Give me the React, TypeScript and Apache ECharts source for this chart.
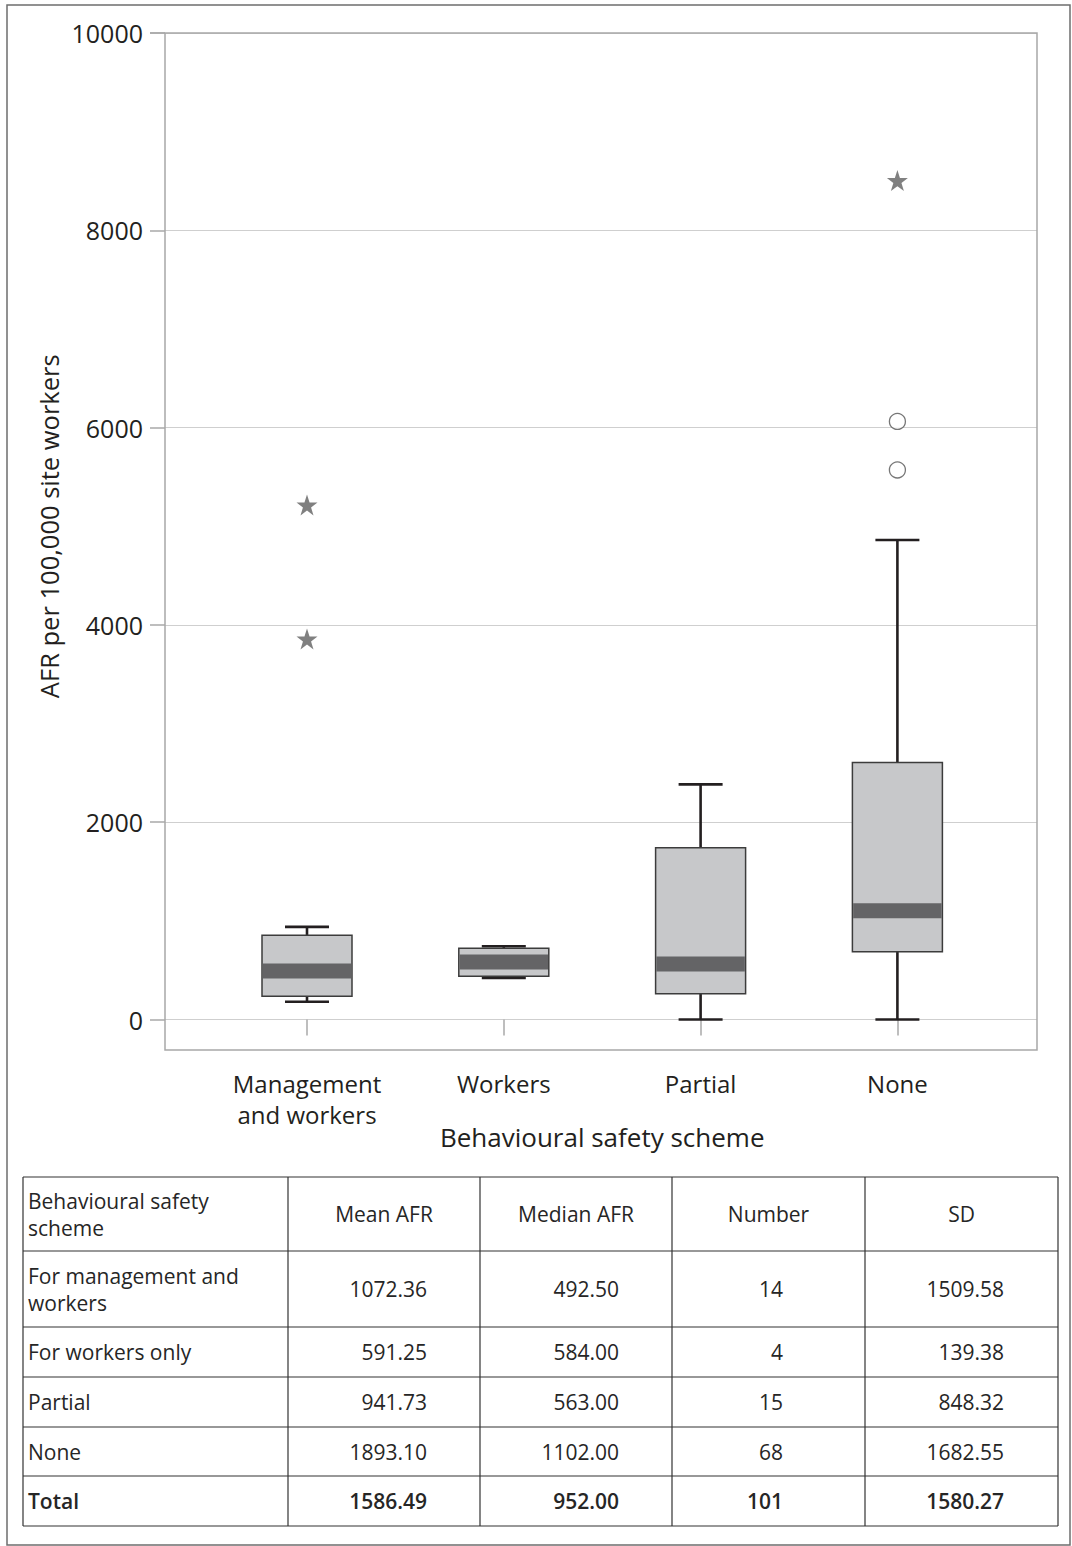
import React, { useEffect, useRef } from "react";
import * as echarts from "echarts";

// ---------- data ----------
const categories = ["Management\nand workers", "Workers", "Partial", "None"];
const whiskerLow = [180, 422, 0, 0];
const quartile1 = [236, 439, 260, 686];
const medianVal = [492.5, 584, 563, 1102];
const quartile3 = [855, 723, 1740, 2606];
const whiskerHigh = [939, 743, 2383, 4861];

// extreme outliers (stars) and outliers (circles)
const starCategory = [0, 0, 3];
const starValue = [5216, 3857, 8504];
const circleCategory = [3, 3];
const circleValue = [6063, 5571];

const yMin = 0;
const yMax = 10000;
const yInterval = 2000;

// ---------- table ----------
const tableHeader = ["Behavioural safety\nscheme", "Mean AFR", "Median AFR", "Number", "SD"];
const rowLabels = ["For management and\nworkers", "For workers only", "Partial", "None", "Total"];
const meanAFR = ["1072.36", "591.25", "941.73", "1893.10", "1586.49"];
const medianAFR = ["492.50", "584.00", "563.00", "1102.00", "952.00"];
const numberCol = ["14", "4", "15", "68", "101"];
const sdCol = ["1509.58", "139.38", "848.32", "1682.55", "1580.27"];

const FONT = '"Open Sans", "Noto Sans", sans-serif';
const TEXT = "#231f20";

export default function App() {
  const ref = useRef<HTMLDivElement>(null);

  useEffect(() => {
    if (!ref.current) return;
    const chart = echarts.init(ref.current, null, { renderer: "svg" });

    // layout constants
    const frameL = 165, frameT = 33, frameR = 1037, frameB = 1050;
    const zeroY = 1019.5;
    const catSpacing = 196.8;
    const firstCat = 307;
    const dataLeft = firstCat - catSpacing / 2;
    const dataWidth = catSpacing * categories.length;

    const boxData = categories.map((_, i) => [
      i, whiskerLow[i], quartile1[i], medianVal[i], quartile3[i], whiskerHigh[i],
    ]);
    const starData = starCategory.map((c, i) => [c, starValue[i]]);
    const circleData = circleCategory.map((c, i) => [c, circleValue[i]]);

    // table graphics
    const colX = [23, 288, 480, 672, 865, 1058];
    const rowY = [1177, 1251, 1327, 1377, 1427, 1476, 1526];
    const numRight = [0, 427, 619, 783, 1004];
    const tableG: any[] = [];
    const lineStyle = { stroke: "#333", lineWidth: 1.2 };
    rowY.forEach((y) =>
      tableG.push({ type: "line", shape: { x1: colX[0], y1: y, x2: colX[5], y2: y }, style: lineStyle })
    );
    colX.forEach((x) =>
      tableG.push({ type: "line", shape: { x1: x, y1: rowY[0], x2: x, y2: rowY[6] }, style: lineStyle })
    );
    const txt = (text: string, x: number, y: number, align: string, bold = false) => ({
      type: "text",
      x,
      y,
      style: {
        text,
        fill: "#262626",
        fontSize: 21,
        fontFamily: FONT,
        fontWeight: bold ? 600 : "normal",
        lineHeight: 27,
        textAlign: align,
        textVerticalAlign: "middle",
        align,
        verticalAlign: "middle",
      },
    });
    // header
    const hy = (rowY[0] + rowY[1]) / 2;
    tableG.push(txt(tableHeader[0], colX[0] + 5, hy, "left"));
    for (let c = 1; c < 5; c++) tableG.push(txt(tableHeader[c], (colX[c] + colX[c + 1]) / 2, hy, "center"));
    const cols = [meanAFR, medianAFR, numberCol, sdCol];
    rowLabels.forEach((lab, r) => {
      const cy = (rowY[r + 1] + rowY[r + 2]) / 2;
      const bold = r === rowLabels.length - 1;
      tableG.push(txt(lab, colX[0] + 5, cy, "left", bold));
      cols.forEach((col, c) => tableG.push(txt(col[r], numRight[c + 1], cy, "right", bold)));
    });

    const starPath =
      "path://M50,0 L61.8,35.1 L98.9,35.1 L68.9,57 L80.3,92.1 L50,70.4 L19.7,92.1 L31.1,57 L1.1,35.1 L38.2,35.1 Z";

    chart.setOption({
      animation: false,
      backgroundColor: "#ffffff",
      textStyle: { fontFamily: FONT },
      grid: [
        { left: frameL, top: frameT, width: frameR - frameL, height: zeroY - frameT },
        { left: dataLeft, top: frameT, width: dataWidth, height: zeroY - frameT },
      ],
      xAxis: [
        { gridIndex: 0, type: "value", show: false, min: 0, max: 1 },
        {
          gridIndex: 1,
          type: "category",
          data: categories,
          offset: frameB - zeroY,
          axisLine: { show: false },
          axisTick: { show: true, alignWithLabel: true, length: 16, lineStyle: { color: "#a8a8a8", width: 1.5 } },
          axisLabel: { fontSize: 24, color: TEXT, lineHeight: 31, margin: 18, fontFamily: FONT },
          splitLine: { show: false },
          name: "Behavioural safety scheme",
          nameLocation: "middle",
          nameGap: 74,
          nameMoveOverlap: false,
          nameTextStyle: { fontSize: 26, color: TEXT, fontFamily: FONT },
        },
      ],
      yAxis: [
        {
          gridIndex: 0,
          type: "value",
          min: yMin,
          max: yMax,
          interval: yInterval,
          axisLine: { show: false },
          axisTick: { show: true, length: 15, lineStyle: { color: "#a8a8a8", width: 1.5 } },
          axisLabel: {
            fontSize: 25,
            color: TEXT,
            margin: 22,
            fontFamily: FONT,
            formatter: (v: number) => String(v),
          },
          splitLine: { show: true, lineStyle: { color: "#cfcfcf", width: 1.2 } },
          name: "AFR per 100,000 site workers",
          nameLocation: "middle",
          nameGap: 103,
          nameMoveOverlap: false,
          nameTextStyle: { fontSize: 25.5, color: TEXT, fontFamily: FONT },
        },
        { gridIndex: 1, type: "value", min: yMin, max: yMax, show: false, splitLine: { show: false } },
      ],
      series: [
        {
          type: "custom",
          xAxisIndex: 1,
          yAxisIndex: 1,
          data: boxData,
          encode: { x: 0, y: [1, 2, 3, 4, 5] },
          renderItem: (params: any, api: any) => {
            const i = api.value(0);
            const pLow = api.coord([i, api.value(1)]);
            const pQ1 = api.coord([i, api.value(2)]);
            const pMed = api.coord([i, api.value(3)]);
            const pQ3 = api.coord([i, api.value(4)]);
            const pHigh = api.coord([i, api.value(5)]);
            const x = pMed[0];
            const bw = 90, cw = 44, mh = 15;
            const wStyle = { stroke: "#231f20", lineWidth: 2.6 };
            return {
              type: "group",
              children: [
                { type: "line", shape: { x1: x, y1: pHigh[1], x2: x, y2: pQ3[1] }, style: wStyle },
                { type: "line", shape: { x1: x, y1: pQ1[1], x2: x, y2: pLow[1] }, style: wStyle },
                { type: "line", shape: { x1: x - cw / 2, y1: pHigh[1], x2: x + cw / 2, y2: pHigh[1] }, style: wStyle },
                { type: "line", shape: { x1: x - cw / 2, y1: pLow[1], x2: x + cw / 2, y2: pLow[1] }, style: wStyle },
                {
                  type: "rect",
                  shape: { x: x - bw / 2, y: pQ3[1], width: bw, height: pQ1[1] - pQ3[1] },
                  style: { fill: "#c7c8ca", stroke: "#3c3c3c", lineWidth: 1.5 },
                },
                {
                  type: "rect",
                  shape: { x: x - bw / 2 + 0.75, y: pMed[1] - mh / 2, width: bw - 1.5, height: mh },
                  style: { fill: "#646466" },
                },
              ],
            };
          },
          z: 3,
        },
        {
          type: "scatter",
          xAxisIndex: 1,
          yAxisIndex: 1,
          data: starData,
          symbol: starPath,
          symbolSize: 21,
          itemStyle: { color: "#606060" },
          z: 4,
        },
        {
          type: "scatter",
          xAxisIndex: 1,
          yAxisIndex: 1,
          data: circleData,
          symbol: "circle",
          symbolSize: 16,
          itemStyle: { color: "#ffffff", borderColor: "#555555", borderWidth: 1.3 },
          z: 4,
        },
      ],
      graphic: [
        {
          type: "rect",
          shape: { x: 7, y: 5, width: 1063, height: 1540 },
          style: { fill: "none", stroke: "#6e6e6e", lineWidth: 1.5 },
          z: 0,
        },
        {
          type: "rect",
          shape: { x: frameL, y: frameT, width: frameR - frameL, height: frameB - frameT },
          style: { fill: "none", stroke: "#a8a8a8", lineWidth: 1.5 },
          z: 1,
        },
        {
          type: "line",
          shape: { x1: 150, y1: frameT, x2: frameL, y2: frameT },
          style: { stroke: "#a8a8a8", lineWidth: 1.5 },
        },
        ...tableG,
      ],
    });

    return () => chart.dispose();
  }, []);

  return (
    <div
      ref={ref}
      style={{ position: "absolute", left: 0, top: 0, width: 1072, height: 1546, background: "#fff" }}
    />
  );
}
